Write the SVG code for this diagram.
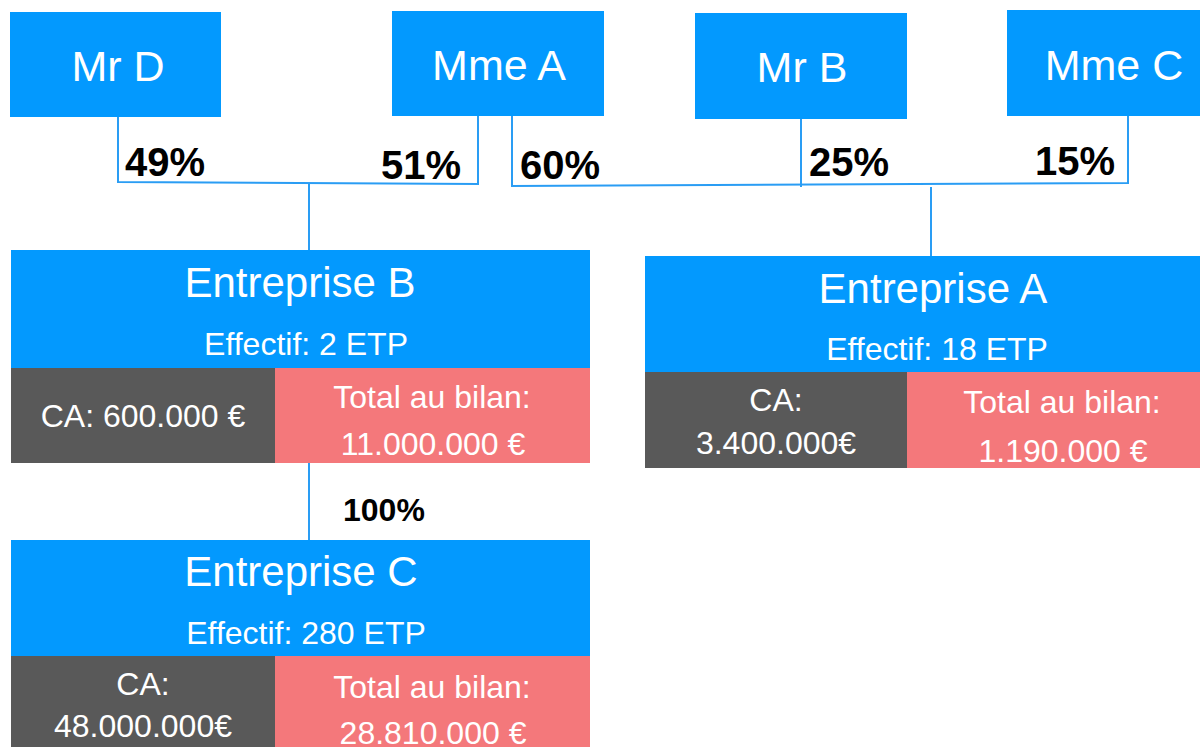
<svg xmlns="http://www.w3.org/2000/svg" width="1200" height="747" viewBox="0 0 1200 747">
<style>
.blue{fill:#0399FE}
.grey{fill:#595959}
.pink{fill:#F4787B}
text{font-family:"Liberation Sans",Arial,sans-serif}
.w{fill:#fff;text-anchor:middle}
.name{font-size:43px}
.title{font-size:42px}
.sub{font-size:32px}
.pct{font-size:40px;font-weight:bold;fill:#000}
.conn{fill:none;stroke:#2A9DF4;stroke-width:2}
</style>
<rect width="1200" height="747" fill="#fff"/>
<g id="connectors">
<polyline class="conn" points="118,117 118,182 478,184 478,116"/>
<line class="conn" x1="309" y1="183" x2="309" y2="250"/>
<polyline class="conn" points="512,116 512,186 1128,183 1128,116"/>
<line class="conn" x1="801" y1="119" x2="801" y2="187"/>
<line class="conn" x1="931" y1="187" x2="931" y2="256"/>
<line class="conn" x1="309" y1="463" x2="309" y2="540"/>
<text class="pct" x="125" y="176">49%</text>
<text class="pct" x="461" y="179" text-anchor="end">51%</text>
<text class="pct" x="520" y="179">60%</text>
<text class="pct" x="809" y="176">25%</text>
<text class="pct" x="1115" y="175" text-anchor="end">15%</text>
<text class="pct" x="343" y="521" style="font-size:32px">100%</text>
</g>
<g id="mr-d">
<rect class="blue" x="10" y="12" width="211" height="105"/>
<text class="w name" x="118" y="81">Mr D</text>
</g>
<g id="mme-a">
<rect class="blue" x="392" y="11" width="212" height="105"/>
<text class="w name" x="499" y="80">Mme A</text>
</g>
<g id="mr-b">
<rect class="blue" x="695" y="13" width="212" height="106"/>
<text class="w name" x="802" y="82">Mr B</text>
</g>
<g id="mme-c">
<rect class="blue" x="1007" y="10" width="193" height="106"/>
<text class="w name" x="1114" y="80">Mme C</text>
</g>
<g id="entreprise-b">
<rect class="blue" x="11" y="250" width="579" height="118"/>
<rect class="grey" x="11" y="368" width="264" height="95"/>
<rect class="pink" x="275" y="368" width="315" height="95"/>
<text class="w title" x="300" y="297">Entreprise B</text>
<text class="w sub" x="306" y="355">Effectif: 2 ETP</text>
<text class="w sub" x="143" y="427">CA: 600.000 €</text>
<text class="w sub" x="432" y="408">Total au bilan:</text>
<text class="w sub" x="433" y="455">11.000.000 €</text>
</g>
<g id="entreprise-a">
<rect class="blue" x="645" y="256" width="555" height="116"/>
<rect class="grey" x="645" y="372" width="262" height="96"/>
<rect class="pink" x="907" y="372" width="293" height="96"/>
<text class="w title" x="933" y="303">Entreprise A</text>
<text class="w sub" x="937" y="360">Effectif: 18 ETP</text>
<text class="w sub" x="776" y="411">CA:</text>
<text class="w sub" x="776" y="454">3.400.000€</text>
<text class="w sub" x="1062" y="413">Total au bilan:</text>
<text class="w sub" x="1063" y="462">1.190.000 €</text>
</g>
<g id="entreprise-c">
<rect class="blue" x="11" y="540" width="579" height="116"/>
<rect class="grey" x="11" y="656" width="264" height="91"/>
<rect class="pink" x="275" y="656" width="315" height="91"/>
<text class="w title" x="301" y="586">Entreprise C</text>
<text class="w sub" x="306" y="644">Effectif: 280 ETP</text>
<text class="w sub" x="143" y="695">CA:</text>
<text class="w sub" x="143" y="737">48.000.000€</text>
<text class="w sub" x="432" y="698">Total au bilan:</text>
<text class="w sub" x="433" y="744">28.810.000 €</text>
</g>
</svg>
